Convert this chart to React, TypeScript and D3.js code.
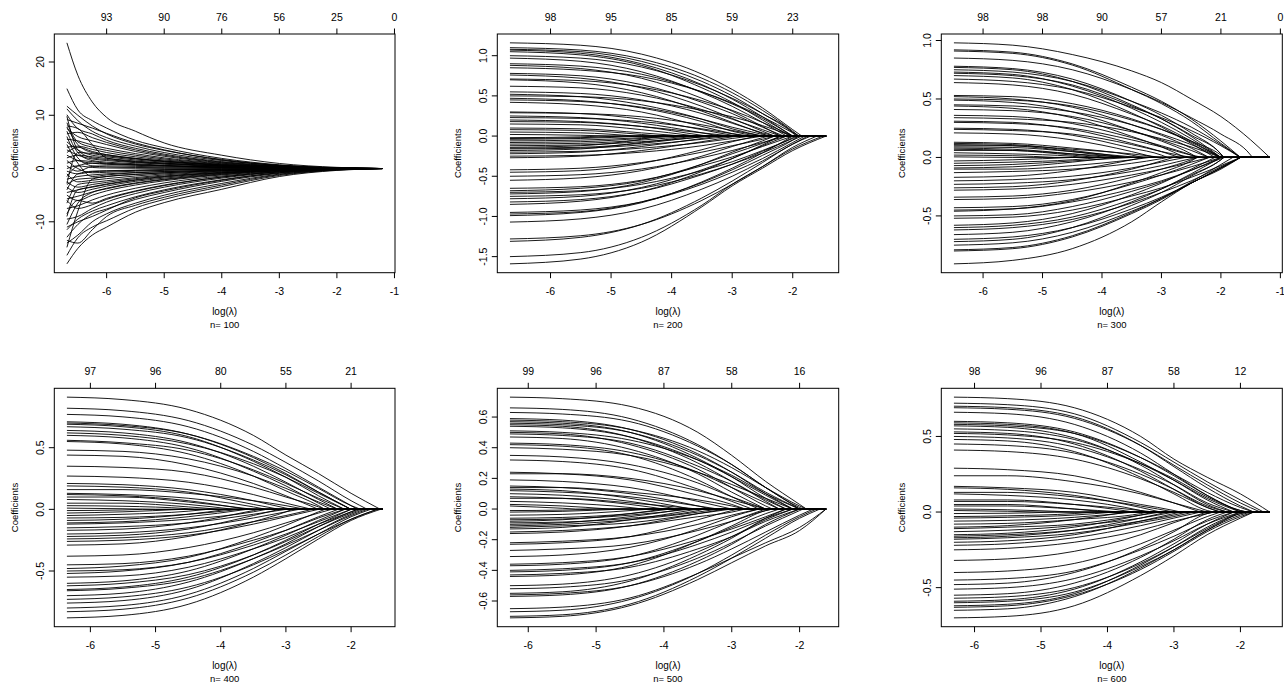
import React from 'react';
import * as d3 from 'd3';

// ---------- n = 100 ----------
const range100 = [-6.69, -1.21];
const knots100 = [-6.69, -6.5, -6.25, -6, -5.5, -5, -4, -3, -2];
const xTicks100 = [-6, -5, -4, -3, -2, -1];
const df100 = ['93', '90', '76', '56', '25', '0'];
const yTicks100 = [-10, 0, 10, 20];
const yLabels100 = ['-10', '0', '10', '20'];
// each path: [lambda where it reaches zero, coefficient at each knot...]
const paths100 = [
  [-1.21, 23.6, 17.5, 12.5, 9.6, 7.0, 4.8, 2.5, 0.95, 0.22],
  [-1.21, 15.0, 11.0, 9.0, 7.6, 5.3, 3.9, 1.9, 0.7, 0.15],
  [-1.21, 11.7, 10.0, 8.0, 6.5, 4.6, 3.4, 1.7, 0.6, 0.12],
  [-1.21, 11.2, 9.0, 7.0, 5.8, 4.2, 3.0, 1.5, 0.55, 0.1],
  [-1.21, 10.1, 7.5, 6.5, 5.3, 3.8, 2.7, 1.3, 0.45, 0.08],
  [-1.21, 9.2, 8.5, 7.6, 6.6, 4.8, 3.5, 1.6, 0.6, 0.12],
  [-1.21, 8.6, 5.0, 4.0, 3.4, 2.5, 1.8, 0.9, 0.3, 0.05],
  [-1.21, 8.0, 7.5, 4.5, 2.0, 1.3, 1.0, 0.5, 0.18, 0.04],
  [-1.21, 7.5, 6.0, 5.2, 4.5, 3.2, 2.3, 1.1, 0.4, 0.07],
  [-1.21, 7.0, 3.0, 1.5, 1.2, 0.9, 0.6, 0.3, 0.1, 0.02],
  [-1.21, 6.5, 6.8, 5.8, 4.9, 3.5, 2.5, 1.2, 0.42, 0.08],
  [-1.21, 6.0, 2.0, 0.5, 0.3, 0.2, 0.15, 0.08, 0.03, 0.01],
  [-1.21, 5.5, 5.2, 4.4, 3.8, 2.8, 2.0, 1.0, 0.35, 0.06],
  [-1.21, 5.0, 3.5, 2.5, 2.2, 1.6, 1.2, 0.6, 0.2, 0.04],
  [-1.21, 4.5, 1.0, -1.5, -1.2, -0.8, -0.6, -0.3, -0.1, -0.02],
  [-1.21, 4.0, 4.2, 3.6, 3.0, 2.2, 1.6, 0.8, 0.28, 0.05],
  [-1.21, 3.5, 2.5, 1.8, 1.5, 1.1, 0.8, 0.4, 0.14, 0.03],
  [-1.21, 3.0, 4.0, 3.2, 2.6, 1.9, 1.4, 0.7, 0.25, 0.05],
  [-1.21, 2.5, 1.5, 1.0, 0.8, 0.6, 0.45, 0.22, 0.08, 0.02],
  [-1.21, 2.0, 2.5, 2.2, 1.9, 1.4, 1.0, 0.5, 0.18, 0.03],
  [-1.21, 1.5, 0.0, -0.8, -0.7, -0.5, -0.35, -0.18, -0.06, -0.01],
  [-1.21, 1.0, 1.5, 1.3, 1.0, 0.75, 0.55, 0.28, 0.1, 0.02],
  [-1.21, 0.5, -0.5, 0.4, 0.5, 0.4, 0.3, 0.15, 0.05, 0.01],
  [-1.21, 0.0, 0.5, 0.2, 0.1, 0.05, 0.03, 0.02, 0.01, 0],
  [-1.21, -0.5, -1.0, -0.6, -0.5, -0.35, -0.25, -0.13, -0.04, -0.01],
  [-1.21, -1.0, -2.5, -2.2, -1.9, -1.4, -1.0, -0.5, -0.17, -0.03],
  [-1.21, -1.5, 0.5, 1.0, 0.9, 0.7, 0.5, 0.25, 0.09, 0.02],
  [-1.21, -2.0, -1.5, -1.2, -1.0, -0.75, -0.55, -0.28, -0.1, -0.02],
  [-1.21, -2.5, -3.5, -3.0, -2.6, -1.9, -1.4, -0.7, -0.25, -0.05],
  [-1.21, -3.0, -2.0, -1.8, -1.5, -1.1, -0.8, -0.4, -0.14, -0.03],
  [-1.21, -3.5, -4.5, -3.9, -3.3, -2.4, -1.8, -0.9, -0.32, -0.06],
  [-1.21, -4.0, -1.0, -0.5, -0.4, -0.3, -0.2, -0.1, -0.04, -0.01],
  [-1.21, -4.5, -4.0, -3.4, -2.9, -2.1, -1.5, -0.8, -0.28, -0.05],
  [-1.21, -5.0, -6.0, -5.0, -4.2, -3.1, -2.3, -1.2, -0.42, -0.08],
  [-1.21, -5.7, -5.2, -4.4, -3.7, -2.7, -2.0, -1.0, -0.36, -0.07],
  [-1.21, -6.5, -3.0, -2.6, -2.3, -1.7, -1.2, -0.6, -0.22, -0.04],
  [-1.21, -7.5, -7.0, -5.9, -5.0, -3.7, -2.7, -1.4, -0.5, -0.1],
  [-1.21, -8.5, -6.0, -6.5, -5.6, -4.2, -3.1, -1.6, -0.58, -0.11],
  [-1.21, -9.5, -9.0, -7.5, -6.3, -4.7, -3.5, -1.8, -0.65, -0.13],
  [-1.21, -10.5, -6.5, -4.5, -3.8, -2.8, -2.1, -1.1, -0.4, -0.08],
  [-1.21, -11.5, -9.5, -8.0, -7.0, -5.3, -4.0, -2.1, -0.78, -0.15],
  [-1.21, -12.9, -10.5, -8.5, -7.6, -5.8, -4.5, -2.4, -0.9, -0.18],
  [-1.21, -14.0, -12.5, -10.0, -8.5, -6.5, -5.0, -2.8, -1.05, -0.22],
  [-1.21, -14.8, -8.0, -2.0, -1.5, -1.1, -0.8, -0.4, -0.15, -0.03],
  [-1.21, -16.3, -13.0, -11.0, -9.8, -7.4, -5.8, -3.4, -1.3, -0.28],
  [-1.21, -17.9, -15.0, -12.5, -11.0, -8.2, -6.4, -3.9, -1.5, -0.35],
  [-1.21, -13.5, -14.0, -11.5, -9.0, -6.9, -5.4, -3.1, -1.15, -0.25],
  [-1.21, 9.8, 3.5, 2.0, 1.7, 1.2, 0.9, 0.45, 0.16, 0.03],
  [-1.21, 7.8, 4.5, 3.0, 2.6, 1.9, 1.4, 0.7, 0.25, 0.05],
  [-1.21, -2.8, 3.0, 2.8, 2.4, 1.8, 1.3, 0.65, 0.23, 0.04],
  [-1.21, -6.0, -7.5, -6.8, -5.8, -4.3, -3.2, -1.6, -0.6, -0.12],
  [-1.21, -9.0, -4.0, -3.5, -3.0, -2.2, -1.6, -0.8, -0.3, -0.06],
  [-1.21, -11.0, -10.0, -9.0, -7.8, -5.5, -4.2, -2.2, -0.8, -0.16],
];

// ---------- n = 200 ----------
const range200 = [-6.67, -1.45];
const knots200 = [-6.67, -5.5, -4.5, -3.5, -3, -2.5, -2];
const xTicks200 = [-6, -5, -4, -3, -2];
const df200 = ['98', '95', '85', '59', '23'];
const yTicks200 = [-1.5, -1, -0.5, 0, 0.5, 1];
const yLabels200 = ['-1.5', '-1.0', '-0.5', '0.0', '0.5', '1.0'];
const paths200 = [
  [-1.85, 1.16, 1.13, 1.02, 0.77, 0.58, 0.35, 0.08],
  [-1.9, 1.10, 1.07, 0.96, 0.72, 0.54, 0.32, 0.06],
  [-1.95, 1.08, 1.05, 0.93, 0.68, 0.5, 0.28, 0.04],
  [-2.0, 1.07, 1.03, 0.9, 0.64, 0.46, 0.24],
  [-2.05, 1.05, 1.01, 0.88, 0.6, 0.42, 0.2],
  [-1.9, 1.0, 0.97, 0.86, 0.63, 0.47, 0.28, 0.05],
  [-2.1, 0.97, 0.93, 0.8, 0.54, 0.37, 0.17],
  [-2.0, 0.9, 0.87, 0.77, 0.55, 0.4, 0.22],
  [-2.2, 0.88, 0.84, 0.72, 0.47, 0.31, 0.12],
  [-1.9, 0.85, 0.82, 0.74, 0.55, 0.41, 0.24, 0.04],
  [-2.15, 0.78, 0.75, 0.64, 0.42, 0.28, 0.11],
  [-2.3, 0.76, 0.72, 0.6, 0.37, 0.22, 0.06],
  [-2.0, 0.71, 0.69, 0.61, 0.44, 0.32, 0.17],
  [-2.4, 0.7, 0.66, 0.54, 0.31, 0.17, 0.03],
  [-2.2, 0.62, 0.6, 0.51, 0.33, 0.21, 0.08],
  [-2.3, 0.55, 0.53, 0.45, 0.28, 0.16, 0.04],
  [-2.5, 0.52, 0.49, 0.39, 0.21, 0.09],
  [-2.0, 0.5, 0.49, 0.44, 0.32, 0.24, 0.13],
  [-2.6, 0.47, 0.44, 0.35, 0.18, 0.06],
  [-2.4, 0.45, 0.43, 0.36, 0.21, 0.11, 0.02],
  [-2.8, 0.42, 0.39, 0.3, 0.12, 0.03],
  [-2.9, 0.3, 0.28, 0.21, 0.08, 0.01],
  [-2.5, 0.29, 0.28, 0.24, 0.14, 0.07],
  [-3.2, 0.25, 0.23, 0.16, 0.04],
  [-2.7, 0.23, 0.22, 0.18, 0.09, 0.03],
  [-3.4, 0.2, 0.18, 0.12, 0.01],
  [-3.0, 0.18, 0.17, 0.12, 0.04],
  [-3.6, 0.15, 0.14, 0.08],
  [-3.8, 0.1, 0.09, 0.04],
  [-4.2, 0.08, 0.07, 0.02],
  [-4.6, 0.05, 0.04],
  [-5.0, 0.02, 0.01],
  [-5.2, -0.02, -0.01],
  [-4.8, -0.03, -0.02],
  [-4.5, -0.04, -0.03],
  [-4.0, -0.06, -0.05, -0.02],
  [-3.9, -0.08, -0.07, -0.03],
  [-3.7, -0.1, -0.09, -0.05],
  [-3.4, -0.12, -0.11, -0.07, -0.01],
  [-4.2, -0.14, -0.12, -0.04],
  [-3.3, -0.15, -0.14, -0.09, -0.01],
  [-3.0, -0.16, -0.15, -0.11, -0.04],
  [-3.6, -0.18, -0.16, -0.08],
  [-2.7, -0.2, -0.19, -0.15, -0.08, -0.03],
  [-3.2, -0.22, -0.2, -0.13, -0.03],
  [-2.5, -0.25, -0.24, -0.2, -0.12, -0.06],
  [-2.9, -0.27, -0.25, -0.18, -0.07, -0.01],
  [-2.3, -0.42, -0.4, -0.33, -0.2, -0.12, -0.04],
  [-2.6, -0.45, -0.43, -0.34, -0.17, -0.07],
  [-2.1, -0.5, -0.48, -0.41, -0.27, -0.18, -0.08],
  [-2.4, -0.55, -0.52, -0.43, -0.25, -0.13, -0.02],
  [-2.0, -0.65, -0.63, -0.55, -0.37, -0.26, -0.13],
  [-2.2, -0.68, -0.65, -0.56, -0.35, -0.22, -0.09],
  [-1.9, -0.7, -0.68, -0.6, -0.43, -0.32, -0.18, -0.03],
  [-2.3, -0.72, -0.69, -0.58, -0.35, -0.2, -0.06],
  [-1.85, -0.75, -0.73, -0.65, -0.47, -0.35, -0.21, -0.05],
  [-2.1, -0.78, -0.75, -0.64, -0.42, -0.28, -0.12],
  [-1.95, -0.82, -0.79, -0.69, -0.48, -0.35, -0.19, -0.02],
  [-2.2, -0.85, -0.81, -0.69, -0.44, -0.28, -0.11],
  [-1.8, -0.95, -0.92, -0.82, -0.6, -0.45, -0.28, -0.08],
  [-1.9, -0.97, -0.94, -0.82, -0.58, -0.42, -0.24, -0.05],
  [-2.0, -0.99, -0.95, -0.83, -0.57, -0.4, -0.21],
  [-1.75, -1.07, -1.03, -0.91, -0.66, -0.5, -0.31, -0.1],
  [-1.6, -1.28, -1.24, -1.1, -0.8, -0.6, -0.38, -0.14],
  [-1.7, -1.31, -1.26, -1.1, -0.77, -0.56, -0.33, -0.1],
  [-1.5, -1.5, -1.45, -1.26, -0.86, -0.6, -0.38, -0.16],
  [-1.45, -1.59, -1.53, -1.32, -0.88, -0.62, -0.4, -0.18],
];

// ---------- n = 300 ----------
const range300 = [-6.49, -1.18];
const knots300 = [-6.49, -5.5, -4.5, -3.5, -3, -2.5, -2, -1.5];
const xTicks300 = [-6, -5, -4, -3, -2, -1];
const df300 = ['98', '98', '90', '57', '21', '0'];
const yTicks300 = [-0.5, 0, 0.5, 1];
const yLabels300 = ['-0.5', '0.0', '0.5', '1.0'];
const paths300 = [
  [-1.18, 0.98, 0.96, 0.88, 0.74, 0.64, 0.5, 0.35, 0.15],
  [-1.67, 0.92, 0.9, 0.8, 0.6, 0.48, 0.33, 0.14],
  [-1.67, 0.91, 0.89, 0.79, 0.58, 0.46, 0.31, 0.12],
  [-1.47, 0.85, 0.83, 0.75, 0.58, 0.47, 0.34, 0.2, 0.02],
  [-1.95, 0.78, 0.76, 0.67, 0.48, 0.36, 0.21, 0.03],
  [-2.0, 0.77, 0.75, 0.65, 0.45, 0.33, 0.18],
  [-1.67, 0.75, 0.73, 0.65, 0.48, 0.38, 0.26, 0.11],
  [-2.0, 0.73, 0.71, 0.61, 0.42, 0.3, 0.16],
  [-1.95, 0.72, 0.7, 0.62, 0.44, 0.33, 0.19, 0.03],
  [-2.1, 0.7, 0.68, 0.58, 0.38, 0.26, 0.12],
  [-1.67, 0.67, 0.65, 0.58, 0.43, 0.34, 0.23, 0.1],
  [-2.0, 0.64, 0.62, 0.54, 0.37, 0.27, 0.14],
  [-2.0, 0.53, 0.52, 0.46, 0.33, 0.24, 0.13],
  [-2.2, 0.52, 0.5, 0.43, 0.28, 0.19, 0.08],
  [-1.95, 0.5, 0.49, 0.44, 0.32, 0.24, 0.14, 0.02],
  [-2.4, 0.49, 0.47, 0.39, 0.23, 0.14, 0.03],
  [-2.0, 0.45, 0.44, 0.39, 0.28, 0.2, 0.11],
  [-2.6, 0.44, 0.42, 0.34, 0.18, 0.09],
  [-2.2, 0.41, 0.4, 0.35, 0.23, 0.15, 0.06],
  [-2.4, 0.36, 0.35, 0.29, 0.17, 0.1, 0.02],
  [-2.0, 0.34, 0.33, 0.3, 0.22, 0.16, 0.09],
  [-2.7, 0.31, 0.3, 0.24, 0.12, 0.05],
  [-2.3, 0.3, 0.29, 0.25, 0.15, 0.09, 0.02],
  [-2.9, 0.25, 0.24, 0.19, 0.08, 0.02],
  [-2.5, 0.24, 0.23, 0.2, 0.11, 0.05],
  [-3.1, 0.21, 0.2, 0.15, 0.05],
  [-3.3, 0.13, 0.12, 0.08, 0.02],
  [-3.6, 0.12, 0.11, 0.06],
  [-3.7, 0.11, 0.1, 0.05],
  [-3.0, 0.1, 0.1, 0.07, 0.03],
  [-3.4, 0.09, 0.085, 0.05, 0.005],
  [-3.9, 0.08, 0.07, 0.03],
  [-4.1, 0.07, 0.06, 0.02],
  [-3.5, 0.06, 0.06, 0.03],
  [-4.3, 0.04, 0.03, 0.01],
  [-4.8, 0.02, 0.015],
  [-5.5, 0.005],
  [-4.5, -0.03, -0.02],
  [-4.0, -0.05, -0.04, -0.02],
  [-3.5, -0.07, -0.06, -0.03],
  [-3.8, -0.09, -0.08, -0.04],
  [-3.2, -0.1, -0.1, -0.07, -0.02],
  [-2.9, -0.13, -0.12, -0.1, -0.05, -0.01],
  [-3.3, -0.17, -0.16, -0.11, -0.02],
  [-2.6, -0.2, -0.19, -0.16, -0.09, -0.04],
  [-2.4, -0.23, -0.22, -0.19, -0.12, -0.07, -0.01],
  [-2.8, -0.26, -0.25, -0.2, -0.1, -0.03],
  [-2.2, -0.28, -0.27, -0.23, -0.15, -0.1, -0.04],
  [-2.4, -0.34, -0.33, -0.28, -0.17, -0.1, -0.02],
  [-2.0, -0.36, -0.35, -0.3, -0.21, -0.15, -0.08],
  [-2.2, -0.43, -0.42, -0.36, -0.23, -0.15, -0.06],
  [-1.95, -0.45, -0.44, -0.38, -0.27, -0.2, -0.11, -0.01],
  [-2.4, -0.46, -0.44, -0.37, -0.22, -0.13, -0.03],
  [-2.0, -0.5, -0.49, -0.42, -0.29, -0.21, -0.11],
  [-1.67, -0.52, -0.51, -0.45, -0.33, -0.26, -0.17, -0.07],
  [-2.1, -0.58, -0.56, -0.48, -0.32, -0.22, -0.1],
  [-1.95, -0.6, -0.58, -0.51, -0.36, -0.27, -0.15, -0.02],
  [-1.67, -0.62, -0.6, -0.53, -0.39, -0.3, -0.2, -0.08],
  [-2.0, -0.66, -0.64, -0.55, -0.38, -0.27, -0.14],
  [-1.67, -0.7, -0.68, -0.6, -0.44, -0.34, -0.22, -0.09],
  [-1.95, -0.72, -0.7, -0.6, -0.41, -0.3, -0.16, -0.02],
  [-1.67, -0.75, -0.73, -0.64, -0.46, -0.35, -0.22, -0.09],
  [-1.8, -0.79, -0.77, -0.67, -0.47, -0.35, -0.21, -0.06],
  [-1.67, -0.8, -0.78, -0.68, -0.48, -0.36, -0.22, -0.09],
  [-1.67, -0.91, -0.88, -0.78, -0.55, -0.38, -0.22, -0.1],
];

// ---------- n = 400 ----------
const range400 = [-6.36, -1.52];
const knots400 = [-6.36, -5.5, -4.5, -3.5, -3, -2.5, -2];
const xTicks400 = [-6, -5, -4, -3, -2];
const df400 = ['97', '96', '80', '55', '21'];
const yTicks400 = [-0.5, 0, 0.5];
const yLabels400 = ['-0.5', '0.0', '0.5'];
const paths400 = [
  [-1.55, 0.91, 0.89, 0.81, 0.6, 0.44, 0.29, 0.13],
  [-1.75, 0.82, 0.8, 0.72, 0.52, 0.38, 0.23, 0.07],
  [-1.9, 0.77, 0.75, 0.67, 0.47, 0.33, 0.18, 0.03],
  [-2.0, 0.71, 0.69, 0.61, 0.42, 0.29, 0.14],
  [-1.85, 0.7, 0.68, 0.61, 0.43, 0.31, 0.17, 0.03],
  [-2.1, 0.69, 0.67, 0.59, 0.39, 0.26, 0.11],
  [-2.0, 0.67, 0.65, 0.58, 0.4, 0.28, 0.14],
  [-2.2, 0.64, 0.62, 0.54, 0.35, 0.22, 0.08],
  [-2.0, 0.62, 0.6, 0.53, 0.37, 0.26, 0.13],
  [-2.3, 0.6, 0.58, 0.5, 0.31, 0.19, 0.05],
  [-2.1, 0.56, 0.54, 0.48, 0.32, 0.21, 0.09],
  [-2.4, 0.55, 0.53, 0.45, 0.27, 0.15, 0.03],
  [-2.2, 0.48, 0.47, 0.41, 0.27, 0.17, 0.06],
  [-2.5, 0.44, 0.43, 0.36, 0.21, 0.11],
  [-2.4, 0.35, 0.34, 0.3, 0.18, 0.1, 0.02],
  [-2.6, 0.27, 0.26, 0.22, 0.12, 0.05],
  [-2.9, 0.21, 0.2, 0.16, 0.07, 0.01],
  [-3.1, 0.19, 0.18, 0.14, 0.04],
  [-2.7, 0.16, 0.16, 0.13, 0.07, 0.03],
  [-3.3, 0.13, 0.12, 0.09, 0.02],
  [-3.6, 0.12, 0.11, 0.07],
  [-3.5, 0.1, 0.1, 0.06],
  [-3.8, 0.08, 0.07, 0.04],
  [-4.0, 0.05, 0.05, 0.02],
  [-4.4, 0.03, 0.025, 0.005],
  [-5.0, 0.01, 0.005],
  [-5.2, -0.01, -0.005],
  [-4.6, -0.03, -0.02],
  [-4.2, -0.05, -0.04, -0.015],
  [-3.7, -0.07, -0.065, -0.04],
  [-3.9, -0.09, -0.08, -0.04],
  [-3.6, -0.11, -0.1, -0.06],
  [-3.3, -0.12, -0.11, -0.08, -0.02],
  [-3.0, -0.15, -0.14, -0.11, -0.04],
  [-3.4, -0.17, -0.16, -0.11, -0.01],
  [-2.8, -0.2, -0.19, -0.15, -0.07, -0.02],
  [-3.1, -0.22, -0.21, -0.16, -0.05],
  [-2.6, -0.24, -0.23, -0.19, -0.1, -0.05],
  [-2.5, -0.26, -0.25, -0.21, -0.12, -0.06],
  [-2.9, -0.29, -0.28, -0.22, -0.1, -0.02],
  [-2.3, -0.38, -0.37, -0.31, -0.19, -0.11, -0.03],
  [-2.1, -0.45, -0.44, -0.38, -0.25, -0.17, -0.07],
  [-2.4, -0.48, -0.46, -0.39, -0.23, -0.13, -0.02],
  [-2.0, -0.5, -0.49, -0.43, -0.29, -0.2, -0.1],
  [-2.2, -0.52, -0.5, -0.43, -0.27, -0.17, -0.06],
  [-1.9, -0.55, -0.54, -0.47, -0.32, -0.23, -0.12, -0.02],
  [-2.1, -0.6, -0.58, -0.5, -0.32, -0.21, -0.09],
  [-1.85, -0.62, -0.6, -0.53, -0.37, -0.26, -0.14, -0.03],
  [-2.0, -0.65, -0.63, -0.55, -0.37, -0.25, -0.12],
  [-1.75, -0.66, -0.64, -0.57, -0.4, -0.29, -0.17, -0.05],
  [-1.9, -0.7, -0.68, -0.59, -0.4, -0.28, -0.14, -0.02],
  [-1.6, -0.73, -0.71, -0.63, -0.45, -0.33, -0.2, -0.08],
  [-1.8, -0.76, -0.74, -0.65, -0.44, -0.31, -0.17, -0.04],
  [-1.7, -0.8, -0.78, -0.69, -0.48, -0.34, -0.2, -0.06],
  [-1.6, -0.83, -0.81, -0.72, -0.51, -0.37, -0.22, -0.08],
  [-1.55, -0.88, -0.86, -0.77, -0.55, -0.4, -0.24, -0.09],
];

// ---------- n = 500 ----------
const range500 = [-6.27, -1.61];
const knots500 = [-6.27, -5.5, -4.5, -3.5, -3, -2.5, -2];
const xTicks500 = [-6, -5, -4, -3, -2];
const df500 = ['99', '96', '87', '58', '16'];
const yTicks500 = [-0.6, -0.4, -0.2, 0, 0.2, 0.4, 0.6];
const yLabels500 = ['-0.6', '-0.4', '-0.2', '0.0', '0.2', '0.4', '0.6'];
const paths500 = [
  [-1.9, 0.73, 0.72, 0.67, 0.5, 0.35, 0.18, 0.03],
  [-2.0, 0.66, 0.65, 0.59, 0.42, 0.29, 0.14],
  [-1.95, 0.63, 0.62, 0.57, 0.41, 0.29, 0.14, 0.01],
  [-2.1, 0.59, 0.58, 0.52, 0.36, 0.24, 0.1],
  [-1.9, 0.58, 0.57, 0.52, 0.38, 0.27, 0.14, 0.02],
  [-2.2, 0.57, 0.56, 0.5, 0.33, 0.21, 0.07],
  [-2.0, 0.56, 0.55, 0.5, 0.35, 0.24, 0.11],
  [-2.3, 0.55, 0.54, 0.47, 0.3, 0.18, 0.05],
  [-2.1, 0.54, 0.53, 0.47, 0.32, 0.21, 0.09],
  [-2.0, 0.51, 0.5, 0.45, 0.32, 0.22, 0.1],
  [-2.4, 0.5, 0.49, 0.42, 0.26, 0.14, 0.02],
  [-2.2, 0.49, 0.48, 0.43, 0.28, 0.18, 0.06],
  [-2.5, 0.47, 0.46, 0.39, 0.23, 0.11],
  [-2.3, 0.43, 0.42, 0.37, 0.24, 0.14, 0.04],
  [-2.6, 0.42, 0.41, 0.35, 0.19, 0.08],
  [-2.1, 0.4, 0.39, 0.35, 0.24, 0.16, 0.07],
  [-2.5, 0.35, 0.34, 0.29, 0.17, 0.08],
  [-2.7, 0.32, 0.31, 0.26, 0.13, 0.05],
  [-2.8, 0.24, 0.23, 0.19, 0.09, 0.03],
  [-2.5, 0.23, 0.23, 0.2, 0.12, 0.06],
  [-3.0, 0.19, 0.18, 0.14, 0.05],
  [-3.3, 0.15, 0.14, 0.1, 0.02],
  [-2.8, 0.14, 0.14, 0.11, 0.06, 0.02],
  [-3.6, 0.13, 0.12, 0.07],
  [-3.2, 0.12, 0.11, 0.08, 0.02],
  [-3.8, 0.1, 0.09, 0.05],
  [-4.0, 0.08, 0.07, 0.03],
  [-3.5, 0.07, 0.07, 0.04],
  [-4.3, 0.05, 0.04, 0.01],
  [-4.8, 0.03, 0.02],
  [-5.3, 0.02, 0.005],
  [-5.0, -0.01, -0.007],
  [-4.6, -0.02, -0.015],
  [-4.2, -0.04, -0.035, -0.01],
  [-3.9, -0.06, -0.055, -0.03],
  [-3.6, -0.07, -0.065, -0.04],
  [-4.0, -0.08, -0.07, -0.03],
  [-3.4, -0.09, -0.085, -0.06, -0.01],
  [-3.7, -0.1, -0.09, -0.05],
  [-3.2, -0.11, -0.1, -0.07, -0.02],
  [-3.0, -0.12, -0.11, -0.09, -0.03],
  [-3.5, -0.13, -0.12, -0.07],
  [-2.8, -0.15, -0.14, -0.11, -0.05, -0.02],
  [-3.1, -0.16, -0.15, -0.11, -0.03],
  [-2.6, -0.22, -0.21, -0.18, -0.1, -0.04],
  [-2.9, -0.23, -0.22, -0.18, -0.07, -0.01],
  [-2.4, -0.27, -0.26, -0.23, -0.14, -0.08, -0.01],
  [-2.6, -0.31, -0.3, -0.25, -0.13, -0.05],
  [-2.2, -0.36, -0.35, -0.31, -0.2, -0.13, -0.05],
  [-2.5, -0.37, -0.36, -0.31, -0.17, -0.08],
  [-2.1, -0.4, -0.39, -0.35, -0.23, -0.15, -0.06],
  [-2.3, -0.41, -0.4, -0.35, -0.21, -0.12, -0.03],
  [-2.0, -0.43, -0.42, -0.38, -0.26, -0.18, -0.08],
  [-2.4, -0.44, -0.43, -0.37, -0.21, -0.11, -0.01],
  [-2.1, -0.5, -0.49, -0.43, -0.28, -0.18, -0.07],
  [-1.95, -0.52, -0.51, -0.46, -0.32, -0.22, -0.11, -0.01],
  [-2.2, -0.55, -0.54, -0.47, -0.3, -0.19, -0.06],
  [-1.8, -0.56, -0.55, -0.5, -0.36, -0.26, -0.15, -0.04],
  [-2.0, -0.57, -0.56, -0.5, -0.34, -0.23, -0.1],
  [-1.61, -0.65, -0.64, -0.58, -0.42, -0.32, -0.22, -0.12],
  [-1.75, -0.67, -0.66, -0.59, -0.42, -0.3, -0.17, -0.05],
  [-1.7, -0.7, -0.69, -0.62, -0.44, -0.32, -0.19, -0.06],
  [-1.61, -0.71, -0.7, -0.63, -0.46, -0.35, -0.24, -0.14],
];

// ---------- n = 600 ----------
const range600 = [-6.31, -1.56];
const knots600 = [-6.31, -5.5, -4.5, -3.5, -3, -2.5, -2];
const xTicks600 = [-6, -5, -4, -3, -2];
const df600 = ['98', '96', '87', '58', '12'];
const yTicks600 = [-0.5, 0, 0.5];
const yLabels600 = ['-0.5', '0.0', '0.5'];
const paths600 = [
  [-1.56, 0.76, 0.75, 0.69, 0.5, 0.35, 0.23, 0.12],
  [-1.65, 0.72, 0.71, 0.65, 0.46, 0.33, 0.2, 0.08],
  [-1.8, 0.7, 0.69, 0.63, 0.44, 0.3, 0.16, 0.04],
  [-1.7, 0.69, 0.68, 0.62, 0.44, 0.31, 0.18, 0.06],
  [-2.0, 0.66, 0.65, 0.58, 0.39, 0.25, 0.11],
  [-1.9, 0.6, 0.59, 0.53, 0.36, 0.24, 0.11, 0.01],
  [-2.1, 0.59, 0.58, 0.52, 0.33, 0.21, 0.08],
  [-1.8, 0.58, 0.57, 0.52, 0.36, 0.25, 0.13, 0.03],
  [-2.2, 0.57, 0.56, 0.49, 0.31, 0.18, 0.05],
  [-2.0, 0.55, 0.54, 0.48, 0.32, 0.21, 0.09],
  [-2.3, 0.53, 0.52, 0.45, 0.27, 0.15, 0.03],
  [-1.9, 0.52, 0.51, 0.46, 0.32, 0.22, 0.1, 0.01],
  [-2.1, 0.5, 0.49, 0.43, 0.28, 0.18, 0.06],
  [-2.4, 0.48, 0.47, 0.4, 0.23, 0.12, 0.01],
  [-2.2, 0.45, 0.44, 0.39, 0.25, 0.15, 0.04],
  [-2.3, 0.41, 0.4, 0.35, 0.22, 0.13, 0.03],
  [-2.6, 0.29, 0.28, 0.24, 0.13, 0.06],
  [-2.5, 0.24, 0.24, 0.2, 0.12, 0.06],
  [-2.9, 0.17, 0.16, 0.13, 0.05, 0.01],
  [-3.2, 0.16, 0.15, 0.11, 0.03],
  [-3.0, 0.13, 0.13, 0.1, 0.04],
  [-3.4, 0.12, 0.11, 0.08, 0.01],
  [-3.6, 0.08, 0.08, 0.05],
  [-3.3, 0.07, 0.07, 0.05, 0.01],
  [-4.0, 0.05, 0.05, 0.02],
  [-3.8, 0.04, 0.04, 0.02],
  [-4.5, 0.02, 0.015],
  [-5.0, 0.01, 0.005],
  [-4.8, -0.01, -0.008],
  [-4.2, -0.03, -0.025, -0.01],
  [-3.9, -0.04, -0.035, -0.02],
  [-3.6, -0.06, -0.055, -0.035],
  [-3.4, -0.08, -0.075, -0.05, -0.01],
  [-3.7, -0.1, -0.09, -0.05],
  [-3.2, -0.11, -0.1, -0.08, -0.02],
  [-3.0, -0.13, -0.12, -0.09, -0.04],
  [-3.3, -0.15, -0.14, -0.1, -0.02],
  [-2.8, -0.16, -0.15, -0.12, -0.06, -0.02],
  [-3.1, -0.17, -0.16, -0.12, -0.04],
  [-2.7, -0.18, -0.17, -0.14, -0.07, -0.03],
  [-2.9, -0.2, -0.19, -0.15, -0.06, -0.01],
  [-2.6, -0.22, -0.21, -0.17, -0.09, -0.04],
  [-2.4, -0.25, -0.24, -0.2, -0.12, -0.06, -0.01],
  [-2.5, -0.32, -0.31, -0.26, -0.15, -0.07],
  [-2.3, -0.4, -0.39, -0.34, -0.21, -0.12, -0.03],
  [-2.1, -0.45, -0.44, -0.39, -0.25, -0.16, -0.06],
  [-2.4, -0.48, -0.47, -0.4, -0.24, -0.13, -0.01],
  [-2.0, -0.51, -0.5, -0.44, -0.29, -0.19, -0.08],
  [-2.2, -0.55, -0.54, -0.47, -0.3, -0.18, -0.05],
  [-1.9, -0.57, -0.56, -0.5, -0.34, -0.23, -0.11, -0.01],
  [-2.1, -0.59, -0.58, -0.51, -0.33, -0.21, -0.08],
  [-1.85, -0.6, -0.59, -0.53, -0.36, -0.25, -0.12, -0.02],
  [-2.0, -0.62, -0.61, -0.54, -0.35, -0.23, -0.1],
  [-1.8, -0.63, -0.62, -0.55, -0.38, -0.26, -0.13, -0.03],
  [-1.9, -0.65, -0.64, -0.56, -0.37, -0.25, -0.12, -0.01],
  [-1.8, -0.7, -0.69, -0.62, -0.42, -0.29, -0.15, -0.04],
];

const panels = [
  { label: 'n= 100', range: range100, knots: knots100, paths: paths100, xTicks: xTicks100, df: df100, yTicks: yTicks100, yLabels: yLabels100 },
  { label: 'n= 200', range: range200, knots: knots200, paths: paths200, xTicks: xTicks200, df: df200, yTicks: yTicks200, yLabels: yLabels200 },
  { label: 'n= 300', range: range300, knots: knots300, paths: paths300, xTicks: xTicks300, df: df300, yTicks: yTicks300, yLabels: yLabels300 },
  { label: 'n= 400', range: range400, knots: knots400, paths: paths400, xTicks: xTicks400, df: df400, yTicks: yTicks400, yLabels: yLabels400 },
  { label: 'n= 500', range: range500, knots: knots500, paths: paths500, xTicks: xTicks500, df: df500, yTicks: yTicks500, yLabels: yLabels500 },
  { label: 'n= 600', range: range600, knots: knots600, paths: paths600, xTicks: xTicks600, df: df600, yTicks: yTicks600, yLabels: yLabels600 },
];

const COLS = [[54.3, 395], [497.3, 838.7], [941.3, 1282.3]];
const ROWS = [[34, 272.7], [388.3, 626.7]];
const FONT = "'Liberation Sans', Arial, Helvetica, sans-serif";
const TICK_FS = 10.5;
const TITLE_FS = 9.5;

function Panel({ p, col, row }: any) {
  const [l, r] = COLS[col];
  const [t, b] = ROWS[row];
  const [x0, x1] = p.range;
  const padX = (x1 - x0) * 0.04;
  const vals: number[] = p.paths.flatMap((q: number[]) => q.slice(1));
  const yMin = Math.min(0, d3.min(vals) as number);
  const yMax = Math.max(0, d3.max(vals) as number);
  const padY = (yMax - yMin) * 0.04;
  const xs = d3.scaleLinear().domain([x0 - padX, x1 + padX]).range([l, r]);
  const ys = d3.scaleLinear().domain([yMin - padY, yMax + padY]).range([b, t]);
  const curve = d3.line<[number, number]>().x(d => xs(d[0])).y(d => ys(d[1])).curve(d3.curveMonotoneX);
  const straight = d3.line<[number, number]>().x(d => xs(d[0])).y(d => ys(d[1]));

  const lines = p.paths.map((q: number[], i: number) => {
    const z = q[0];
    const v = q.slice(1);
    const pts: [number, number][] = [];
    p.knots.forEach((k: number, j: number) => {
      if (j < v.length && k < z) pts.push([k, v[j]]);
    });
    pts.push([z, 0]);
    const tail: [number, number][] | null = z < x1 ? [[z, 0], [x1, 0]] : null;
    return (
      <g key={i}>
        <path d={curve(pts) || ''} fill="none" stroke="#000" strokeWidth={0.9} />
        {tail && <path d={straight(tail) || ''} fill="none" stroke="#000" strokeWidth={0.9} />}
      </g>
    );
  });

  return (
    <g fontFamily={FONT} fill="#000">
      {lines}
      <rect x={l} y={t} width={r - l} height={b - t} fill="none" stroke="#000" strokeWidth={1} />
      {p.xTicks.map((tk: number, i: number) => (
        <g key={'xb' + i}>
          <line x1={xs(tk)} x2={xs(tk)} y1={b} y2={b + 5.5} stroke="#000" strokeWidth={1} />
          <text x={xs(tk)} y={b + 18.3} dy="0.35em" textAnchor="middle" fontSize={TICK_FS}>{String(tk)}</text>
          <line x1={xs(tk)} x2={xs(tk)} y1={t} y2={t - 5.5} stroke="#000" strokeWidth={1} />
          <text x={xs(tk)} y={t - 17} dy="0.35em" textAnchor="middle" fontSize={TICK_FS}>{p.df[i]}</text>
        </g>
      ))}
      {p.yTicks.map((tk: number, i: number) => (
        <g key={'y' + i}>
          <line x1={l} x2={l - 5.5} y1={ys(tk)} y2={ys(tk)} stroke="#000" strokeWidth={1} />
          <text transform={`translate(${l - 14},${ys(tk)}) rotate(-90)`} dy="0.35em" textAnchor="middle" fontSize={TICK_FS}>{p.yLabels[i]}</text>
        </g>
      ))}
      <text transform={`translate(${l - 40},${(t + b) / 2}) rotate(-90)`} dy="0.35em" textAnchor="middle" fontSize={TITLE_FS}>Coefficients</text>
      <text x={(l + r) / 2} y={b + 38.3} dy="0.35em" textAnchor="middle" fontSize={TITLE_FS + 0.5}>log(λ)</text>
      <text x={(l + r) / 2} y={b + 51.6} dy="0.35em" textAnchor="middle" fontSize={TITLE_FS}>{p.label}</text>
    </g>
  );
}

export default function App() {
  return (
    <svg width={1284} height={684} style={{ position: 'absolute', left: 0, top: 0, background: '#fff' }}>
      <rect x={0} y={0} width={1284} height={684} fill="#fff" />
      {panels.map((p, i) => (
        <Panel key={i} p={p} col={i % 3} row={Math.floor(i / 3)} />
      ))}
    </svg>
  );
}
